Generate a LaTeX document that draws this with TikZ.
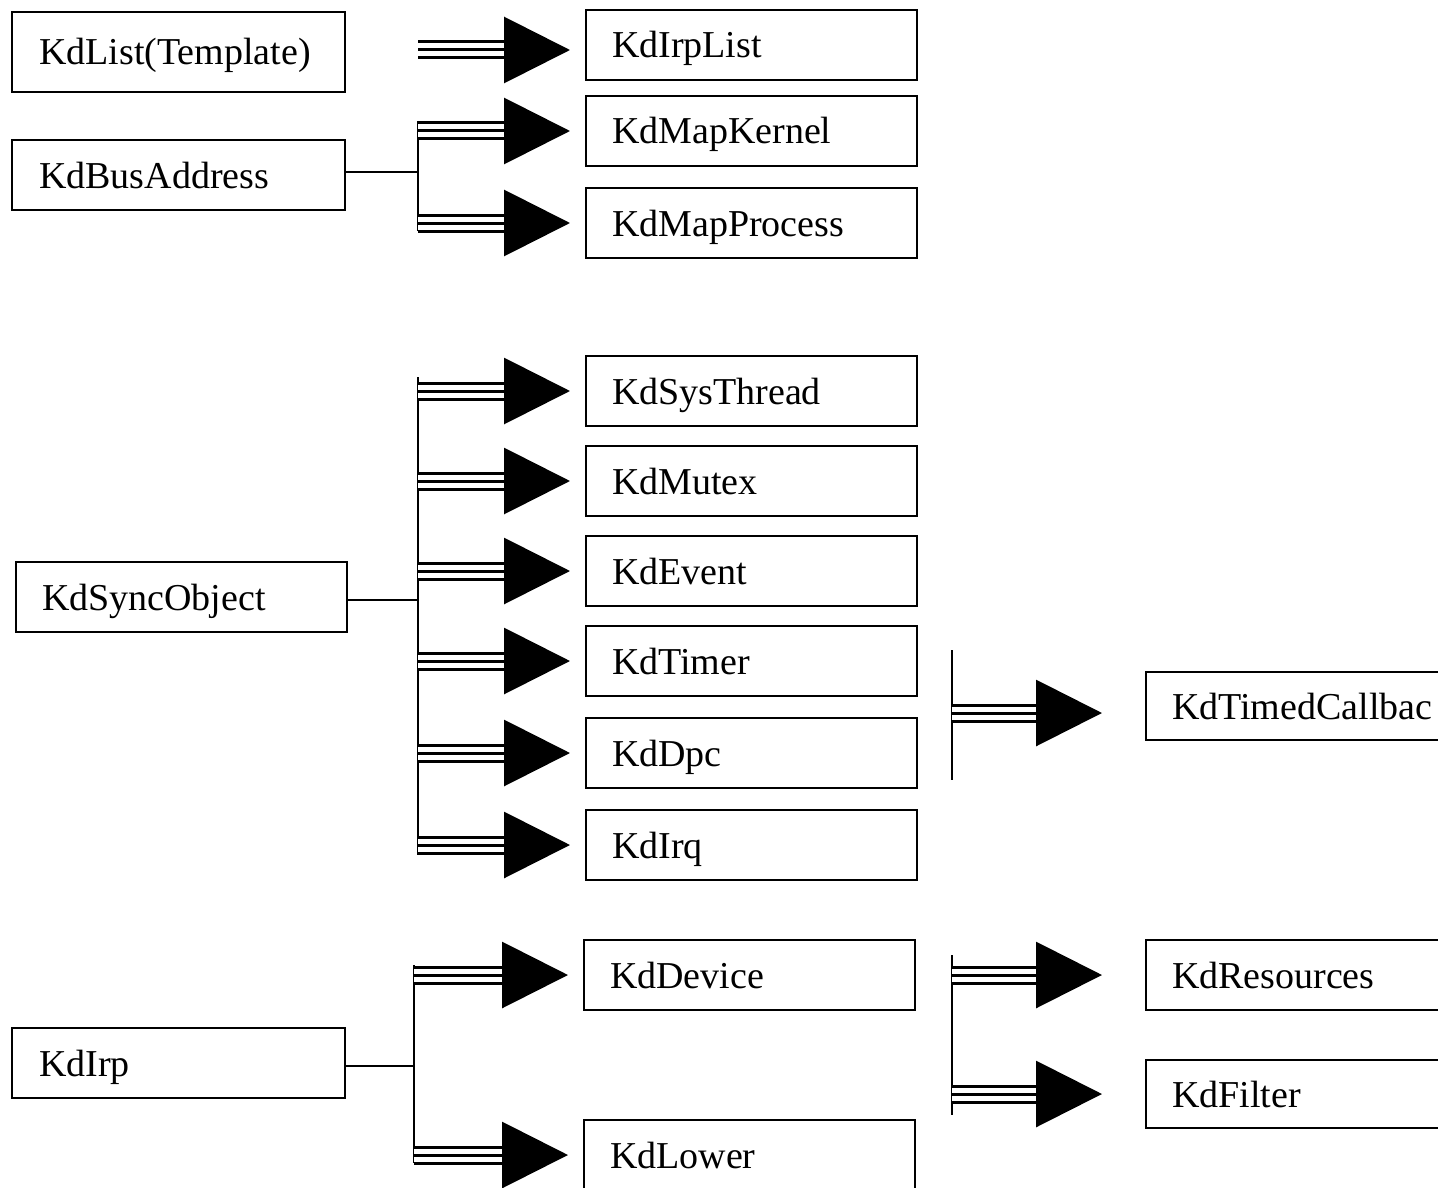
\documentclass[tikz,border=0pt]{standalone}
\usepackage{fontspec}
\setmainfont{Liberation Serif}
\usetikzlibrary{arrows.meta,calc}

\tikzset{
  cls/.style={draw, line width=2pt, minimum width=331pt, minimum height=70pt,
    inner xsep=26pt, text width=279pt, align=left, text height=26pt, text depth=0pt,
    font=\fontsize{38}{44}\selectfont},
  basecls/.style={cls, minimum width=333pt, outer xsep=0pt},
  midcls/.style={cls, outer xsep=16pt},
  farcls/.style={cls, outer xsep=44pt},
  link/.style={line width=2pt},
  inherit/.style={line width=3pt, -{Triangle[length=66pt,width=66pt]},
    preaction={draw, -, double, double distance=13pt, shorten >=64pt}}
}

\begin{document}
\begin{tikzpicture}[x=1pt, y=-1pt]
                    \path[use as bounding box, clip] (0,0) rectangle (1438,1188);
                    % Base classes
                    \node[basecls, minimum height=80pt] (list) at (178.5,52) {KdList(Template)};
                    \node[basecls] (bus) at (178.5,175) {KdBusAddress};
                    \node[basecls, minimum width=331pt] (sync) at (181.5,597) {KdSyncObject};
                    \node[basecls] (irp) at (178.5,1063) {KdIrp};
                    % Derived classes
                    \node[midcls] (irplist) at (751.5,45) {KdIrpList};
                    \node[midcls] (mapkernel) at (751.5,131) {KdMapKernel};
                    \node[midcls] (mapprocess) at (751.5,223) {KdMapProcess};
                    \node[midcls] (systhread) at (751.5,391) {KdSysThread};
                    \node[midcls] (mutex) at (751.5,481) {KdMutex};
                    \node[midcls] (event) at (751.5,571) {KdEvent};
                    \node[midcls] (timer) at (751.5,661) {KdTimer};
                    \node[midcls] (dpc) at (751.5,753) {KdDpc};
                    \node[midcls] (irq) at (751.5,845) {KdIrq};
                    \node[midcls] (device) at (749.5,975) {KdDevice};
                    \node[midcls] (lower) at (749.5,1155) {KdLower};
                    % Second level
                    \node[farcls, minimum height=68pt] (callback) at (1311.5,706) {KdTimedCallbac};
                    \node[farcls] (resources) at (1311.5,975) {KdResources};
                    \node[farcls, minimum height=68pt] (filter) at (1311.5,1094) {KdFilter};
                    % Junctions
                    \coordinate (listj) at (418,50);
                    \coordinate (busj) at (418,172);
                    \coordinate (syncj) at (418,600);
                    \coordinate (irpj) at (414,1066);
                    \coordinate (timertop) at (952,650);
                    \coordinate (timerbot) at (952,780);
                    \coordinate (devtop) at (952,955);
                    \coordinate (devbot) at (952,1115);
                    % KdList
                    \draw[inherit] (listj) -- (listj -| irplist.west);
                    % KdBusAddress
                    \draw[link] (bus.east |- busj) -- (busj);
                    \draw[link] ($(busj |- mapkernel)+(0,-10)$) -- ($(busj |- mapprocess)+(0,8)$);
                    \foreach \sub in {mapkernel, mapprocess}
                        \draw[inherit] (busj |- \sub) -- (\sub.west);
                    % KdSyncObject
                    \draw[link] (sync.east |- syncj) -- (syncj);
                    \draw[link] ($(syncj |- systhread)+(0,-14)$) -- ($(syncj |- irq)+(0,10)$);
                    \foreach \sub in {systhread, mutex, event, timer, dpc, irq}
                        \draw[inherit] (syncj |- \sub) -- (\sub.west);
                    % KdTimer, KdDpc
                    \draw[link] (timertop) -- (timerbot);
                    \draw[inherit] (timertop |- 0,713) -- (callback.west |- 0,713);
                    % KdIrp
                    \draw[link] (irp.east |- irpj) -- (irpj);
                    \draw[link] ($(irpj |- device)+(0,-10)$) -- ($(irpj |- lower)+(0,8)$);
                    \foreach \sub in {device, lower}
                        \draw[inherit] (irpj |- \sub) -- (\sub.west);
                    % KdDevice
                    \draw[link] (devtop) -- (devbot);
                    \foreach \sub in {resources, filter}
                        \draw[inherit] (devtop |- \sub) -- (\sub.west);
                \end{tikzpicture}
\end{document}
